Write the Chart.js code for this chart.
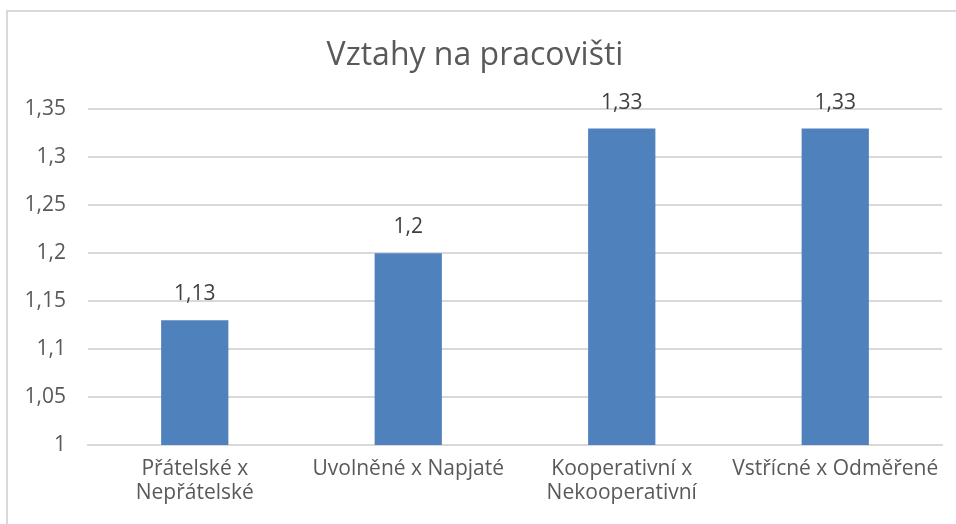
<!DOCTYPE html>
<html>
<head>
<meta charset="utf-8">
<script src="https://cdn.jsdelivr.net/npm/chart.js@4"></script>
<style>
  body { margin: 0; background: #fff; }
  #frame {
    position: absolute; left: 6px; top: 10px;
    width: 950px; height: 514px;
    border-left: 2px solid #d9d9d9; border-top: 2px solid #d9d9d9;
  }
</style>
</head>
<body>
<div id="frame"><canvas id="chart"></canvas></div>
<script>
// data
const categories = [
    ['Přátelské x', 'Nepřátelské'],
    'Uvolněné x Napjaté',
    ['Kooperativní x', 'Nekooperativní'],
    'Vstřícné x Odměřené'
];
const values = [1.13, 1.2, 1.33, 1.33];
const yMin = 1;
const yMax = 1.35;
const yStep = 0.05;

const FONT = '"Open Sans", sans-serif';

function czNum(v) {
    return String(+v.toFixed(2)).replace('.', ',');
}

// value labels above the bars
const barLabels = {
    id: 'barLabels',
    afterDatasetsDraw(chart) {
        const ctx = chart.ctx;
        const meta = chart.getDatasetMeta(0);
        ctx.save();
        ctx.font = '21px ' + FONT;
        ctx.fillStyle = '#404040';
        ctx.textAlign = 'center';
        ctx.textBaseline = 'middle';
        meta.data.forEach((bar, i) => {
            ctx.fillText(czNum(values[i]), bar.x, bar.y - 26);
        });
        ctx.restore();
    }
};

new Chart(document.getElementById('chart'), {
    type: 'bar',
    data: {
        labels: categories,
        datasets: [{
            data: values,
            backgroundColor: '#4f81bd',
            categoryPercentage: 1,
            barPercentage: 0.315
        }]
    },
    options: {
        responsive: true,
        maintainAspectRatio: false,
        animation: false,
        layout: { padding: { left: 0, right: 16, top: 0, bottom: 0 } },
        plugins: {
            legend: { display: false },
            tooltip: { enabled: false },
            title: {
                display: true,
                text: 'Vztahy na pracovišti',
                color: '#595959',
                font: { family: FONT, size: 32, weight: 'normal' },
                padding: { top: 25, bottom: 34 }
            }
        },
        scales: {
            x: {
                grid: { display: false, drawTicks: false },
                border: { display: true, color: '#d9d9d9', width: 2 },
                ticks: {
                    color: '#595959',
                    font: { family: FONT, size: 21, lineHeight: 1.15 },
                    padding: 12,
                    maxRotation: 0
                },
                afterFit(scale) { scale.height = 81; }
            },
            y: {
                min: yMin,
                max: yMax,
                grid: { color: '#d9d9d9', lineWidth: 2, drawTicks: false },
                border: { display: false },
                ticks: {
                    stepSize: yStep,
                    color: '#595959',
                    font: { family: FONT, size: 21 },
                    padding: 22,
                    callback: v => czNum(v)
                },
                afterFit(scale) { scale.width = 80; }
            }
        }
    },
    plugins: [barLabels]
});
</script>
</body>
</html>
